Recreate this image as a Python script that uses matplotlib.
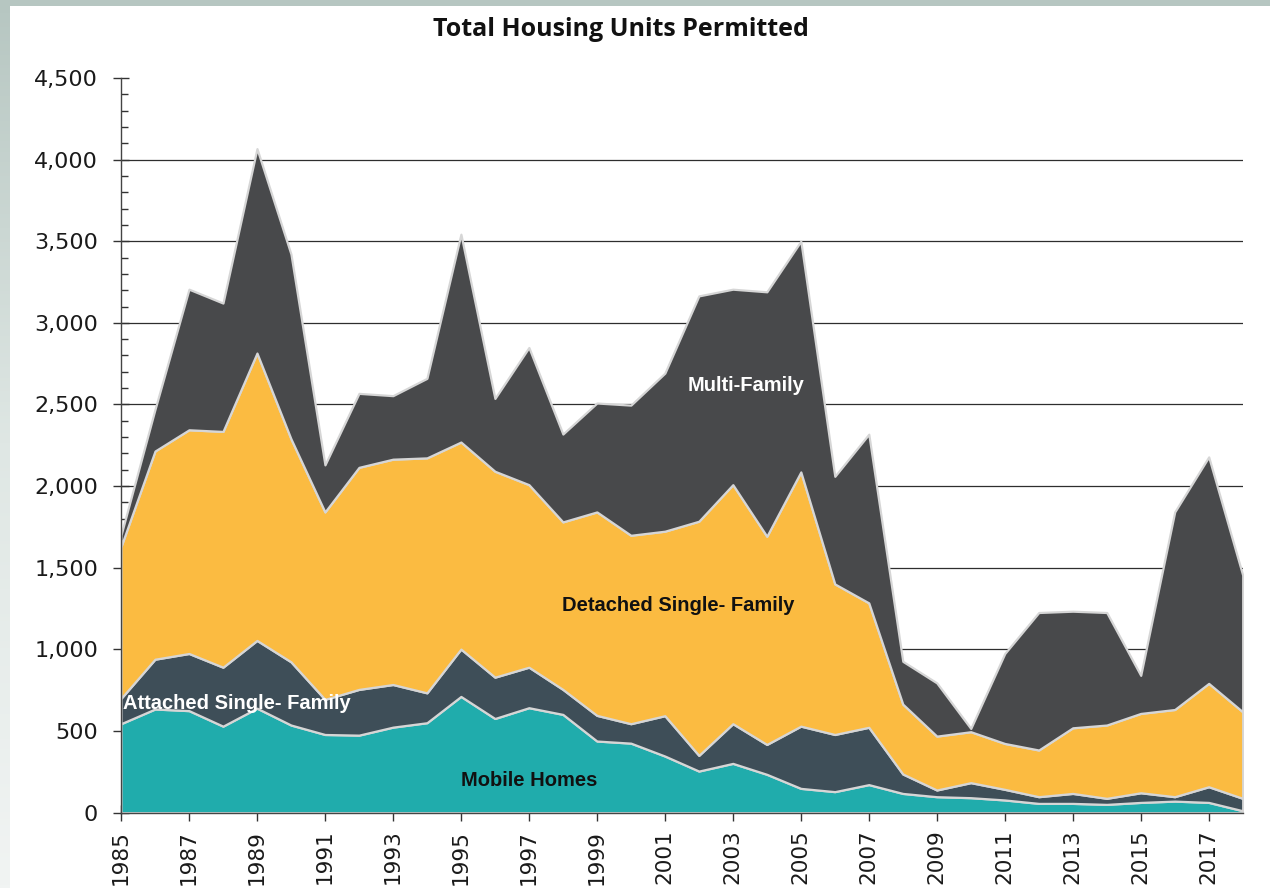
#!/usr/bin/env python3
"""
plot.py — Total Housing Units Permitted, 1985-2018, empilhado por tipo de unidade.

Uso:
    python3 plot.py     -> out.png (1270x888)

Valores lidos a olho do grafico de referencia (unidades por ano).
"""
import numpy as np
import matplotlib
matplotlib.use("Agg")
import matplotlib.pyplot as plt
from matplotlib.colors import LinearSegmentedColormap
from matplotlib.patches import Rectangle
from matplotlib.ticker import MultipleLocator, StrMethodFormatter

# --------------------------------------------------------------------------- #
# Dados
# --------------------------------------------------------------------------- #
ANOS = list(range(1985, 2019))

mobile = [545, 635, 625, 530, 640, 537, 479, 475, 524, 551,
          712, 577, 643, 602, 439, 426, 347, 255, 302, 235,
          149, 129, 172, 118, 98, 92, 78, 57, 57, 51,
          63, 71, 63, 12]
attached = [155, 305, 350, 361, 415, 387, 215, 280, 261, 183,
            290, 253, 248, 153, 157, 119, 247, 96, 243, 183,
            381, 350, 351, 119, 41, 92, 65, 41, 61, 37,
            59, 27, 96, 76]
detached = [930, 1275, 1370, 1444, 1760, 1366, 1148, 1360, 1380, 1439,
            1268, 1261, 1118, 1026, 1246, 1154, 1130, 1434, 1464, 1275,
            1557, 922, 762, 428, 330, 312, 281, 286, 402, 449,
            486, 534, 633, 530]
multi = [70, 255, 861, 786, 1252, 1131, 288, 453, 389, 487,
         1273, 446, 840, 538, 667, 797, 968, 1380, 1197, 1497,
         1413, 659, 1033, 262, 326, 20, 551, 842, 714, 689,
         233, 1210, 1387, 837]

CORES = ["#20acac", "#3e4e58", "#fbbb41", "#48494b"]
TITULO = "Total Housing Units Permitted"

W, H = 1270, 888


# --------------------------------------------------------------------------- #
# Fundo (moldura cinza-esverdeada com degrade na lateral esquerda)
# --------------------------------------------------------------------------- #
def fundo(fig):
    bg = fig.add_axes([0, 0, 1, 1], zorder=-10)
    bg.set_axis_off()
    cmap = LinearSegmentedColormap.from_list("moldura", ["#b6c6c1", "#dfe7e4", "#f1f4f3"])
    grad = np.linspace(0, 1, 256)[:, None]
    bg.imshow(grad, aspect="auto", cmap=cmap, extent=[0, 1, 0, 1])
    bg.add_patch(Rectangle((10 / W, 0), 1, 1 - 6 / H, color="white", lw=0))
    bg.set_xlim(0, 1)
    bg.set_ylim(0, 1)


# --------------------------------------------------------------------------- #
# Figura
# --------------------------------------------------------------------------- #
def main():
    fig = plt.figure(figsize=(W / 100, H / 100), dpi=100)
    fundo(fig)

    ax = fig.add_axes([121 / W, 75.3 / H, (1242.7 - 121) / W, (812.7 - 77.9) / H])
    ax.set_facecolor("none")

    ax.stackplot(ANOS, mobile, attached, detached, multi, colors=CORES,
                 edgecolor="#d6d6d6", linewidth=1.6, zorder=2)
    ax.hlines(np.arange(500, 4500, 500), ANOS[0], ANOS[-1],
              color="#2e2e2e", linewidth=0.9, zorder=1)

    ax.set_xlim(ANOS[0], ANOS[-1])
    ax.set_ylim(0, 4500)

    for s in ("top", "right"):
        ax.spines[s].set_visible(False)
    for s in ("left", "bottom"):
        ax.spines[s].set_color("#444444")
        ax.spines[s].set_linewidth(1.0)
        ax.spines[s].set_zorder(3)

    ax.set_xticks(ANOS[::2])
    ax.yaxis.set_major_locator(MultipleLocator(500))
    ax.yaxis.set_minor_locator(MultipleLocator(100))
    ax.yaxis.set_major_formatter(StrMethodFormatter("{x:,.0f}"))
    ax.tick_params(axis="y", which="major", direction="inout", length=11, width=1,
                   color="#333333", labelsize=16, pad=11, labelcolor="#1a1a1a")
    ax.tick_params(axis="y", which="minor", direction="in", length=5, width=1,
                   color="#333333")
    ax.tick_params(axis="x", which="major", direction="inout", length=11.5, width=1,
                   color="#333333", labelsize=15.5, pad=6.5, labelcolor="#1a1a1a",
                   labelrotation=90)

    rot = dict(fontsize=14.5, fontweight="bold", family="Liberation Sans")
    ax.text(2003.4, 2617, "Multi-Family", color="white", ha="center", va="center", **rot)
    ax.text(2001.4, 1271, "Detached Single- Family", color="#111111",
            ha="center", va="center", **rot)
    ax.text(1997.0, 200, "Mobile Homes", color="#111111", ha="center", va="center", **rot)
    ax.text(1985.05, 671, "Attached Single- Family", color="white",
            ha="left", va="center", zorder=5, **rot)

    fig.text(621 / W, 1 - 29 / H, TITULO, ha="center", va="center",
             fontsize=18, fontweight="bold", family="Open Sans", color="#111111")

    fig.savefig("out.png", dpi=100)
    plt.close(fig)


if __name__ == "__main__":
    main()
